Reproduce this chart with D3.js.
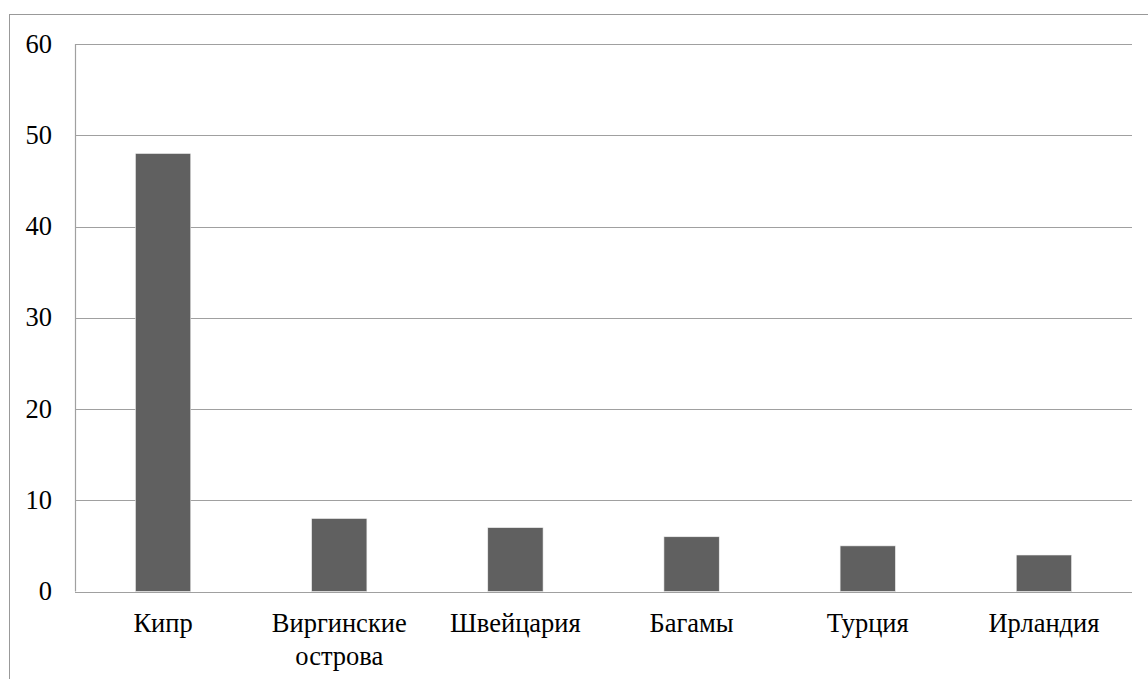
<!DOCTYPE html>
<html><head><meta charset="utf-8">
<script src="https://cdn.jsdelivr.net/npm/d3@7"></script>
<style>body{margin:0;background:#fff}svg{display:block}</style>
</head><body>
<svg id="c" width="1148" height="679"></svg>
<script>
const categories = [["Кипр"], ["Виргинские","острова"], ["Швейцария"], ["Багамы"], ["Турция"], ["Ирландия"]];
const values = [48, 8, 7, 6, 5, 4];
const yTicks = [0, 10, 20, 30, 40, 50, 60];

const svg = d3.select("#c");
const W = 1148, H = 679;
const m = {left: 75, right: 16, top: 44, bottom: 88};
const font = "'Liberation Serif','Times New Roman',serif";

svg.append("rect").attr("x", 9.5).attr("y", 14.5).attr("width", 1300).attr("height", 800)
  .attr("fill", "none").attr("stroke", "#999").attr("stroke-width", 1);

const keys = categories.map(c => c.join(" "));
const x = d3.scaleBand().domain(keys).range([m.left, W - m.right]).padding(0);
const y = d3.scaleLinear().domain([0, 60]).range([H - m.bottom + 0.5, m.top]);

const g = svg.append("g");
g.selectAll("line.grid").data(yTicks).join("line")
  .attr("x1", m.left).attr("x2", W - m.right)
  .attr("y1", d => Math.round(y(d)) + 0.5).attr("y2", d => Math.round(y(d)) + 0.5)
  .attr("stroke", "#a0a0a0").attr("stroke-width", 1.2);
g.append("line").attr("x1", m.left + 0.5).attr("x2", m.left + 0.5)
  .attr("y1", y(60)).attr("y2", y(0)).attr("stroke", "#a0a0a0").attr("stroke-width", 1.2);

const bw = x.bandwidth() * 0.314;
g.selectAll("rect.bar").data(values).join("rect")
  .attr("x", (d, i) => x(keys[i]) + x.bandwidth() / 2 - bw / 2)
  .attr("width", bw)
  .attr("y", d => y(d)).attr("height", d => y(0) - y(d))
  .attr("fill", "#606060").attr("stroke", "#f0f0f0").attr("stroke-width", 0.6);

g.selectAll("text.yl").data(yTicks).join("text")
  .attr("x", 52).attr("y", d => y(d) + 8.5)
  .attr("text-anchor", "end").attr("font-family", font).attr("font-size", 26.5).attr("fill", "#000")
  .text(d => d);

categories.forEach((lines, i) => {
  const t = g.append("text").attr("text-anchor", "middle").attr("font-family", font)
    .attr("font-size", 26.5).attr("fill", "#000");
  lines.forEach((ln, j) => {
    t.append("tspan").attr("x", x(keys[i]) + x.bandwidth() / 2)
      .attr("y", 632 + j * 33).text(ln);
  });
});
</script>
</body></html>
